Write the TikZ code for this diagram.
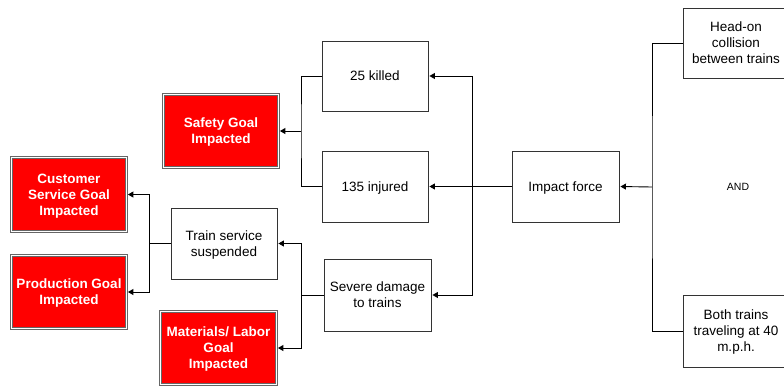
\documentclass[tikz,border=0pt]{standalone}
\usepackage{fontspec}
\setmainfont{Liberation Sans}
\usetikzlibrary{arrows.meta}
\begin{document}
\begin{tikzpicture}[x=1pt,y=-1pt,
  font=\fontsize{13.5}{16}\selectfont,
  box/.style={draw=black!80, line width=0.9pt, fill=white, align=center, inner sep=2pt, text depth=0pt},
  goal/.style={draw=black!60, double=white, double distance=1.1pt, line width=0.8pt,
    fill=red, text=white, font=\fontsize{13.5}{16}\selectfont\bfseries, align=center, inner sep=2pt, text depth=0pt,
    path picture={\draw[line width=2pt, black!55!red] (path picture bounding box.south west) rectangle (path picture bounding box.north east);}},
  conn/.style={draw=black, line width=0.9pt},
  arr/.style={conn, -{Triangle[length=5.5pt,width=6pt]}, shorten >=1pt}]
\useasboundingbox (0,0) rectangle (784,386);
% white boxes
\node[box, minimum width=106pt, minimum height=70pt] (killed) at (375,76) {25 killed};
\node[box, minimum width=106pt, minimum height=71pt] (injured) at (375,186.5) {135 injured};
\node[box, minimum width=107pt, minimum height=72pt] (severe) at (377.5,295) {Severe damage\\to trains};
\node[box, minimum width=107pt, minimum height=71pt] (impact) at (565.5,186.5) {Impact force};
\node[box, minimum width=106pt, minimum height=71pt] (train) at (224,243.5) {Train service\\suspended};
\node[box, minimum width=106pt, minimum height=70pt] (headon) at (736,43) {Head-on\\collision\\between trains};
\node[box, minimum width=106pt, minimum height=72pt] (both) at (736,331) {Both trains\\traveling at 40\\m.p.h.};
\node[font=\fontsize{10.5}{12}\selectfont] (and) at (738,187) {AND};
% goal boxes
\node[goal, minimum width=115pt, minimum height=73pt] (safety) at (221,131) {Safety Goal\\Impacted};
\node[goal, minimum width=115pt, minimum height=74pt] (customer) at (69,194.5) {Customer\\Service Goal\\Impacted};
\node[goal, minimum width=115pt, minimum height=73pt] (production) at (69,292) {Production Goal\\Impacted};
\node[goal, minimum width=116pt, minimum height=73pt] (materials) at (218.5,348) {Materials/ Labor\\Goal\\Impacted};
% junctions
\coordinate (jimp) at (472,186.5);
\coordinate (jsafe) at (301,131);
\coordinate (jsev) at (301,295);
\coordinate (jtrain) at (149,243.5);
\coordinate (jroot) at (652,187);
% connectors
\draw[conn] (impact.west) -- (jimp);
\draw[arr] (jimp) |- (killed.east);
\draw[arr] (jimp) -- (injured.east);
\draw[arr] (jimp) |- (severe.east);
\draw[conn] (killed.west) -| (jsafe) |- (injured.west);
\draw[arr] (jsafe) -- (safety.east);
\draw[conn] (severe.west) -- (jsev);
\draw[arr] (jsev) |- (train.east);
\draw[arr] (jsev) |- (materials.east);
\draw[conn] (train.west) -- (jtrain);
\draw[arr] (jtrain) |- (customer.east);
\draw[arr] (jtrain) |- (production.east);
\draw[conn] (headon.west) -| (jroot) |- (both.west);
\draw[arr] (jroot) -- (impact.east);
\end{tikzpicture}
\end{document}
